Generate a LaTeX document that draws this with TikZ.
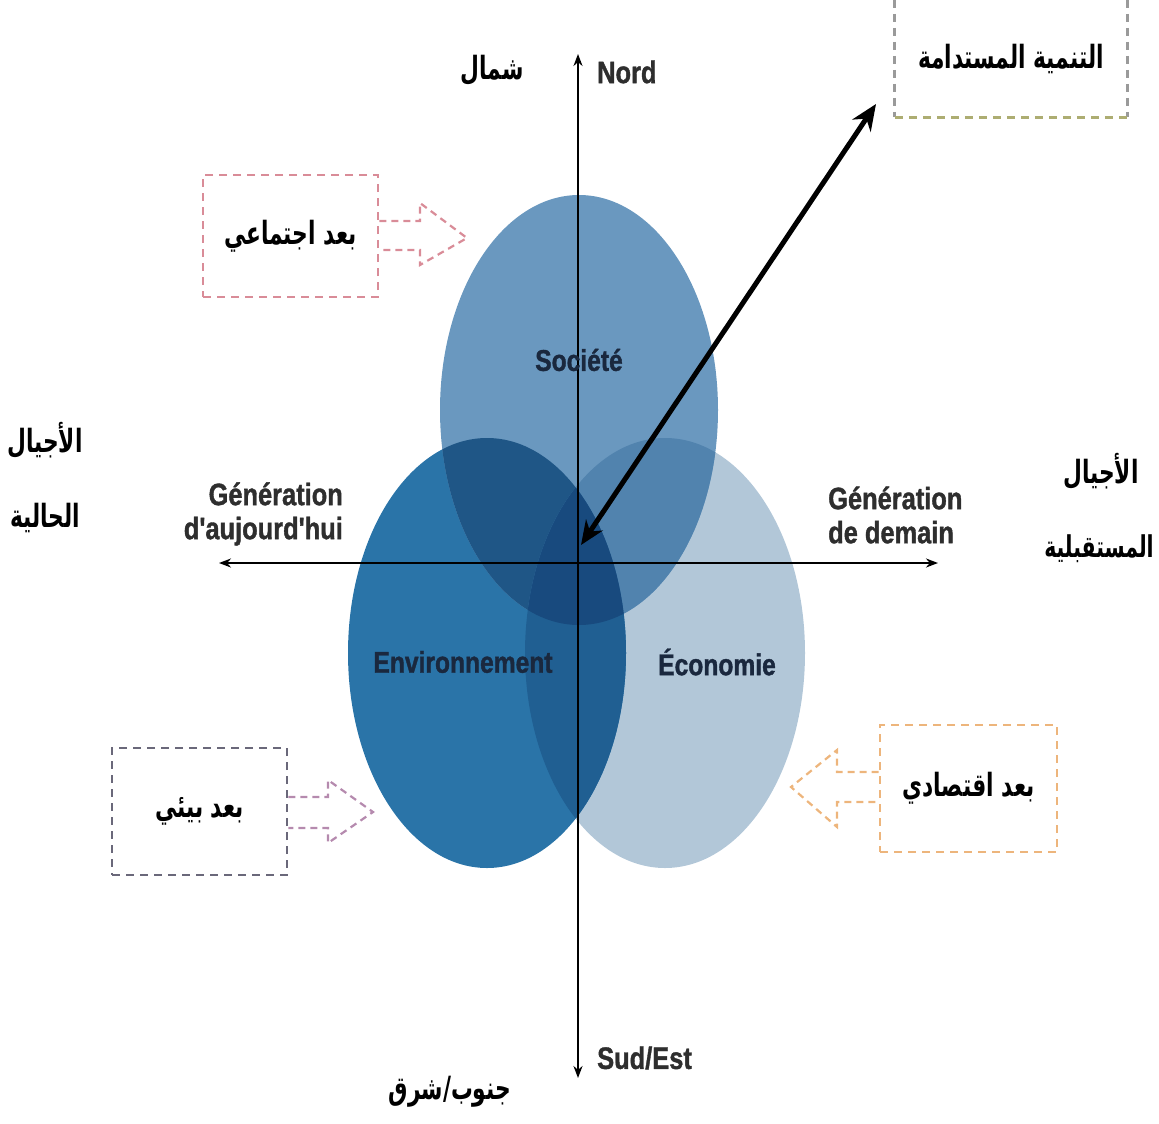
\documentclass[tikz,border=0pt]{standalone}
\usepackage{fontspec}
\setmainfont{Liberation Sans}
\newfontfamily\labfont[FakeStretch=0.82, FakeBold=1.2, UprightFont={* Bold}]{Liberation Sans}
\newfontfamily\arabicfont[Script=Arabic, FakeStretch=0.68]{DejaVu Sans}
\TeXXeTstate=1
\usetikzlibrary{arrows.meta}
\definecolor{cSoc}{HTML}{6A98BF}
\definecolor{cEnv}{HTML}{2A74A8}
\definecolor{cEco}{HTML}{B2C7D8}
\definecolor{cSocEnv}{HTML}{1F5686}
\definecolor{cSocEco}{HTML}{5183AE}
\definecolor{cEnvEco}{HTML}{205F92}
\definecolor{cTriple}{HTML}{184A7E}
\definecolor{labgrey}{HTML}{2E2E2E}
\definecolor{labnavy}{HTML}{1A283E}
\definecolor{pinkdash}{HTML}{D98C98}
\definecolor{envdash}{HTML}{6A687A}
\definecolor{envarrow}{HTML}{B58AAE}
\definecolor{ecodash}{HTML}{EDB57C}
\definecolor{topside}{HTML}{9A9A9A}
\definecolor{topbottom}{HTML}{ADAD72}
\tikzset{
  socE/.style={insert path={(579,410) ellipse [x radius=139pt, y radius=215pt]}},
  envE/.style={insert path={(487,653) ellipse [x radius=139pt, y radius=215pt]}},
  ecoE/.style={insert path={(665,653) ellipse [x radius=140pt, y radius=215pt]}},
  flabel/.style={font=\labfont\fontsize{31}{34}\selectfont, text=labgrey, inner sep=0pt},
  clabel/.style={font=\labfont\fontsize{30}{34}\selectfont, text=labnavy, inner sep=0pt},
  alabel/.style={font=\arabicfont\bfseries\fontsize{32}{34}\selectfont, inner sep=0pt},
  dimbox/.style={draw, dash pattern=on 8pt off 6pt, line width=2.8pt, alabel},
  hollow/.style={dash pattern=on 7pt off 5pt, line width=2.2pt},
  axisline/.style={line width=2.2pt, black, {Stealth[length=12pt,width=9pt]}-{Stealth[length=12pt,width=9pt]}},
  bigarrow/.style={line width=5pt, black, {Stealth[length=24pt,width=20pt]}-{Stealth[length=26pt,width=22pt]}}
}
\begin{document}
\begin{tikzpicture}[x=1pt,y=-1pt]
\useasboundingbox (0,0) rectangle (1159,1124);
% circles
\fill[cEco, ecoE];
\fill[cEnv, envE];
\fill[cSoc, socE];
\begin{scope}\clip[socE]; \fill[cSocEnv, envE]; \end{scope}
\begin{scope}\clip[socE]; \fill[cSocEco, ecoE]; \end{scope}
\begin{scope}\clip[envE]; \fill[cEnvEco, ecoE]; \end{scope}
\begin{scope}\clip[socE]; \clip[envE]; \fill[cTriple, ecoE]; \end{scope}
% axes
\coordinate (axN) at (578,54);
\coordinate (axS) at (578,1078);
\coordinate (axW) at (219,563);
\coordinate (axE) at (938,563);
\draw[axisline] (axS) -- (axN);
\draw[axisline, line width=2.6pt] (axW) -- (axE);
% big arrow
\coordinate (tipLow) at (581,545);
\coordinate (tipHigh) at (876,104);
\draw[bigarrow] (tipLow) -- (tipHigh);
% circle labels
\node[clabel] (soc) at (579,360) {Société};
\node[clabel] (env) at (463,662) {Environnement};
\node[clabel] (eco) at (717,662) {Économie};
% axis labels
\node[flabel, anchor=west] (nord) at (597,72) {Nord};
\node[flabel, anchor=west] (sud) at (597,1058) {Sud/Est};
\node[flabel, anchor=east, align=right] (genA) at (343,514) {Génération\\d'aujourd'hui};
\node[flabel, anchor=west, align=left] (genD) at (828,515) {Génération\\de demain};
% arabic labels
\node[alabel] (shamal) at (492,70) {\beginR شمال\endR};
\node[alabel] (janoub) at (450,1092) {\beginR جنوب/شرق\endR};
\node[alabel] (ajyalL) at (45,440) {\beginR الأجيال\endR};
\node[alabel] (halia) at (45,518) {\beginR الحالية\endR};
\node[alabel] (ajyalR) at (1101,471) {\beginR الأجيال\endR};
\node[alabel, font=\arabicfont\bfseries\fontsize{30}{34}\selectfont] (mustaq) at (1099,549) {\beginR المستقبلية\endR};
% top box
\node[alabel, minimum width=232pt, minimum height=117pt] (tanmia) at (1011,58.5) {\beginR التنمية المستدامة\endR};
\draw[line width=2.8pt, dash pattern=on 8pt off 6pt, topside] (tanmia.north west) -- (tanmia.south west);
\draw[line width=2.8pt, dash pattern=on 8pt off 6pt, topside] (tanmia.north east) -- (tanmia.south east);
\draw[line width=3pt, dash pattern=on 8pt off 6pt, topbottom] (tanmia.south west) -- (tanmia.south east);
% social box
\node[dimbox, draw=pinkdash, minimum width=175pt, minimum height=122pt] (socbox) at (290.5,236) {\beginR بعد اجتماعي\endR};
\draw[hollow, pinkdash] (socbox.east |- 0,221) -- (420,221) -- (420,203) -- (467,238) -- (420,265) -- (420,250) -- (socbox.east |- 0,250);
% environment box
\node[dimbox, draw=envdash, minimum width=175pt, minimum height=127pt] (envbox) at (199.5,811.5) {\beginR بعد بيئي\endR};
\draw[hollow, envarrow] (envbox.east |- 0,797) -- (328,797) -- (328,780) -- (373,812) -- (328,843) -- (328,828) -- (envbox.east |- 0,828);
% economy box
\node[dimbox, draw=ecodash, minimum width=177pt, minimum height=127pt] (ecobox) at (968.5,788.5) {\beginR بعد اقتصادي\endR};
\draw[hollow, ecodash] (ecobox.west |- 0,772) -- (837,772) -- (837,750) -- (791,787) -- (837,827) -- (837,802) -- (ecobox.west |- 0,802);
\end{tikzpicture}
\end{document}
